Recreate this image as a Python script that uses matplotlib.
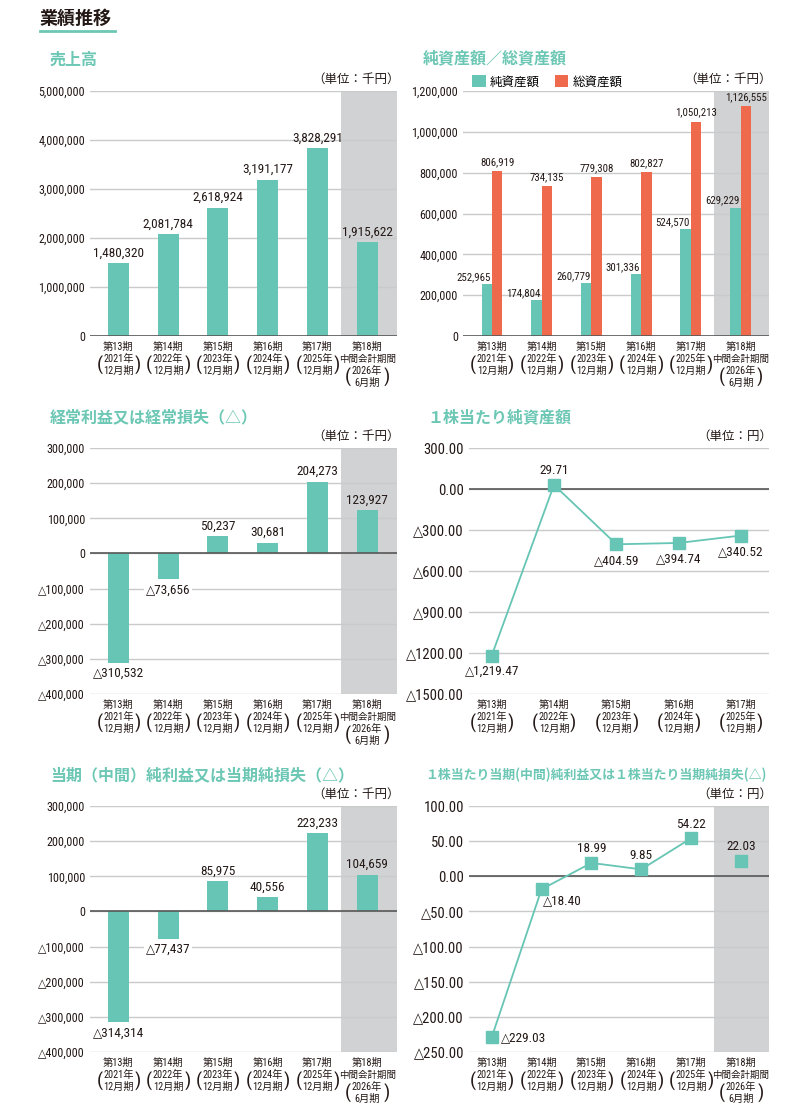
import matplotlib.pyplot as plt
from matplotlib import font_manager as fm
from matplotlib.lines import Line2D
import numpy as np

# 数字用に細めの書体を探す（なければ少し小さくする）
narrow = [f for f in fm.fontManager.ttflist
          if f.stretch in ('condensed', 'semi-condensed', 'extra-condensed')
          and f.style == 'normal' and f.weight in (400, 'normal', 'regular', 'book')]
pref = ['Liberation Sans Narrow', 'Roboto Condensed', 'Open Sans Condensed', 'DejaVu Sans']
narrow.sort(key=lambda f: pref.index(f.name) if f.name in pref else 99)
if narrow:
    plt.rcParams['font.family'] = [narrow[0].name, 'DejaVu Sans', 'Noto Sans CJK JP']
    plt.rcParams['font.stretch'] = narrow[0].stretch
    K = 1.0
else:
    plt.rcParams['font.family'] = ['Roboto', 'DejaVu Sans', 'Noto Sans CJK JP']
    K = 0.86
JP = ['Noto Sans CJK JP', 'DejaVu Sans']

# データ
periods = ['第13期', '第14期', '第15期', '第16期', '第17期', '第18期']
years = ['2021年', '2022年', '2023年', '2024年', '2025年', '2026年']
months = ['12月期', '12月期', '12月期', '12月期', '12月期', '6月期']
interim = '中間会計期間'

sales = [1480320, 2081784, 2618924, 3191177, 3828291, 1915622]
net_assets = [252965, 174804, 260779, 301336, 524570, 629229]
total_assets = [806919, 734135, 779308, 802827, 1050213, 1126555]
ordinary = [-310532, -73656, 50237, 30681, 204273, 123927]
net_income = [-314314, -77437, 85975, 40556, 223233, 104659]
bps = [-1219.47, 29.71, -404.59, -394.74, -340.52]
eps = [-229.03, -18.40, 18.99, 9.85, 54.22, 22.03]

TEAL = '#66c5b4'
RED = '#ef6a4d'
SHADE = '#d1d2d4'
GRID = '#c9caca'
ZERO = '#595757'
TXT = '#231815'
TITLE = '#6cc7b4'

W, H = 797, 1115
fig = plt.figure(figsize=(W / 100, H / 100), dpi=100)


def px_axes(left, top, right, bottom):
    ax = fig.add_axes([left / W, 1 - bottom / H, (right - left) / W, (bottom - top) / H])
    for s in ax.spines.values():
        s.set_visible(False)
    ax.tick_params(length=0, colors=TXT, pad=3.6)
    ax.set_axisbelow(True)
    ax.grid(axis='y', color=GRID, lw=1)
    ax.grid(axis='x', visible=False)
    return ax


def cat_labels(ax, n):
    ax.set_xticks([])
    for i in range(n):
        lines = [periods[i]] + ([interim] if i == 5 else []) + [years[i], months[i]]
        for k, s in enumerate(lines):
            ax.annotate(s, xy=(i, 0), xycoords=('data', 'axes fraction'),
                        xytext=(0, -11 - 12 * k), textcoords='offset pixels',
                        ha='center', va='center',
                        fontsize=6.8 if s == interim else 7.4 * (K if K < 1 else 1),
                        color=TXT)
        yc = -11 - 12 * (len(lines) - 2) - 6
        for dx, p in ((-19, '('), (19, ')')):
            ax.annotate(p, xy=(i, 0), xycoords=('data', 'axes fraction'),
                        xytext=(dx, yc), textcoords='offset pixels',
                        ha='center', va='center', fontsize=14, color=TXT)


def unit(ax, s):
    ax.annotate(s, xy=(1, 1), xycoords='axes fraction', xytext=(3, 12),
                textcoords='offset pixels', ha='right', va='center',
                fontsize=9, color=TXT, family=JP)


def title(x, y, s, size=11.5):
    fig.text(x / W, 1 - y / H, s, ha='left', va='center', fontsize=size,
             fontweight='bold', color=TITLE, family=JP)


def neg_int(v):
    return ('△' if v < 0 else '') + f'{abs(v):,.0f}'


def neg_dec(v, comma=True):
    return ('△' if v < 0 else '') + (f'{abs(v):,.2f}' if comma else f'{abs(v):.2f}')


# 見出し
fig.text(40 / W, 1 - 18 / H, '業績推移', ha='left', va='center', fontsize=13,
         fontweight='bold', color=TXT, family=JP)
fig.add_artist(Line2D([40 / W, 115 / W], [1 - 31 / H] * 2, color=TITLE, lw=2))

x6 = np.arange(6)

# 売上高
ax1 = px_axes(90, 91, 397, 336)
ax1.axvspan(4.47, 5.6, color=SHADE, lw=0, zorder=0)
ax1.bar(x6, sales, width=0.42, color=TEAL, zorder=2)
ax1.axhline(0, color=ZERO, lw=1.2, zorder=3)
ax1.set_xlim(-0.57, 5.6)
ax1.set_ylim(0, 5000000)
ax1.set_yticks(np.arange(0, 5000001, 1000000))
ax1.set_yticklabels([f'{v:,.0f}' for v in ax1.get_yticks()], fontsize=8.7 * K)
for i, v in enumerate(sales):
    ax1.annotate(f'{v:,}', xy=(i, v), xytext=(0, 10), textcoords='offset pixels',
                 ha='center', va='center', fontsize=9.5 * K, color=TXT)
cat_labels(ax1, 6)
unit(ax1, '（単位：千円）')
title(50, 60, '売上高')

# 純資産額／総資産額
ax2 = px_axes(463, 91, 769, 336)
bw = 0.21
ax2.axvspan(4.46, 5.6, color=SHADE, lw=0, zorder=0)
ax2.bar(x6 - bw / 2, net_assets, width=bw, color=TEAL, zorder=2, label='純資産額')
ax2.bar(x6 + bw / 2, total_assets, width=bw, color=RED, zorder=2, label='総資産額')
ax2.axhline(0, color=ZERO, lw=1.2, zorder=3)
ax2.set_xlim(-0.583, 5.57)
ax2.set_ylim(0, 1200000)
ax2.set_yticks(np.arange(0, 1200001, 200000))
ax2.set_yticklabels([f'{v:,.0f}' for v in ax2.get_yticks()], fontsize=8.7 * K)
for i, v in enumerate(net_assets):
    ax2.annotate(f'{v:,}', xy=(i, v), xytext=(-1, 7), textcoords='offset pixels',
                 ha='right', va='center', fontsize=7.8 * K, color=TXT, zorder=4)
for i, v in enumerate(total_assets):
    ax2.annotate(f'{v:,}', xy=(i + bw / 2, v), xytext=(0, 9), textcoords='offset pixels',
                 ha='center', va='center', fontsize=7.8 * K, color=TXT, zorder=4)
cat_labels(ax2, 6)
unit(ax2, '（単位：千円）')
ax2.legend(loc='lower left', bbox_to_anchor=(0.03, 1.01), ncol=2, frameon=False,
           handlelength=1.1, handleheight=1.1, handletextpad=0.3, columnspacing=1.2,
           borderaxespad=0, borderpad=0, prop={'family': JP, 'size': 9})
title(423, 58, '純資産額／総資産額')


def pl_bars(ax, vals):
    ax.axvspan(4.47, 5.6, color=SHADE, lw=0, zorder=0)
    ax.bar(x6, vals, width=0.42, color=TEAL, zorder=2)
    ax.axhline(0, color=ZERO, lw=1.2, zorder=3)
    ax.set_xlim(-0.57, 5.6)
    ax.set_ylim(-400000, 300000)
    ax.set_yticks(np.arange(-400000, 300001, 100000))
    ax.set_yticklabels([neg_int(v) for v in ax.get_yticks()], fontsize=8.7 * K)
    for i, v in enumerate(vals):
        if v >= 0:
            ax.annotate(neg_int(v), xy=(i, v), xytext=(0, 10), textcoords='offset pixels',
                        ha='center', va='center', fontsize=9.5 * K, color=TXT, zorder=4)
        else:
            ax.annotate(neg_int(v), xy=(i, v), xytext=(0, -11), textcoords='offset pixels',
                        ha='center', va='center', fontsize=9.5 * K, color=TXT, zorder=4,
                        bbox=dict(facecolor='white', edgecolor='none', pad=1))
    cat_labels(ax, 6)
    unit(ax, '（単位：千円）')


# 経常利益
ax3 = px_axes(90, 448, 397, 694)
pl_bars(ax3, ordinary)
title(50, 417, '経常利益又は経常損失（△）')

# 当期純利益
ax5 = px_axes(90, 806, 397, 1052)
pl_bars(ax5, net_income)
title(50, 775, '当期（中間）純利益又は当期純損失（△）')

# 1株当たり純資産額
ax4 = px_axes(469, 448, 769, 694)
x5 = np.arange(5)
ax4.plot(x5, bps, '-s', color=TEAL, lw=1.3, markersize=8.5, zorder=3)
ax4.axhline(0, color=ZERO, lw=1.2, zorder=2)
ax4.set_xlim(-0.364, 4.45)
ax4.set_ylim(-1500, 300)
ax4.set_yticks(np.arange(-1500, 301, 300))
ax4.set_yticklabels([neg_dec(v, comma=False) for v in ax4.get_yticks()], fontsize=10.5 * K)
for i, v in enumerate(bps):
    ax4.annotate(neg_dec(v), xy=(i, v), xytext=(0, 14 if v >= 0 else -16),
                 textcoords='offset pixels', ha='center', va='center',
                 fontsize=9.5 * K, color=TXT)
cat_labels(ax4, 5)
unit(ax4, '（単位：円）')
title(427, 417, '１株当たり純資産額')

# 1株当たり当期純利益
ax6 = px_axes(469, 806, 769, 1052)
ax6.axvspan(4.46, 5.6, color=SHADE, lw=0, zorder=0)
ax6.plot(x6[:5], eps[:5], '-', color=TEAL, lw=1.3, zorder=3)
ax6.plot(x6, eps, 's', color=TEAL, markersize=8.5, zorder=4)
ax6.axhline(0, color=ZERO, lw=1.2, zorder=2)
ax6.set_xlim(-0.455, 5.56)
ax6.set_ylim(-250, 100)
ax6.set_yticks(np.arange(-250, 101, 50))
ax6.set_yticklabels([neg_dec(v, comma=False) for v in ax6.get_yticks()], fontsize=10.5 * K)
for i, v in enumerate(eps):
    if v >= 0:
        off, ha = (0, 14), 'center'
    elif i == 0:
        off, ha = (9, 0), 'left'
    else:
        off, ha = (1, -12), 'left'
    ax6.annotate(neg_dec(v), xy=(i, v), xytext=off, textcoords='offset pixels',
                 ha=ha, va='center', fontsize=9.5 * K, color=TXT)
cat_labels(ax6, 6)
unit(ax6, '（単位：円）')
title(425, 775, '１株当たり当期(中間)純利益又は１株当たり当期純損失(△)', size=9.3)

fig.savefig('out.png', dpi=100, facecolor='white')
